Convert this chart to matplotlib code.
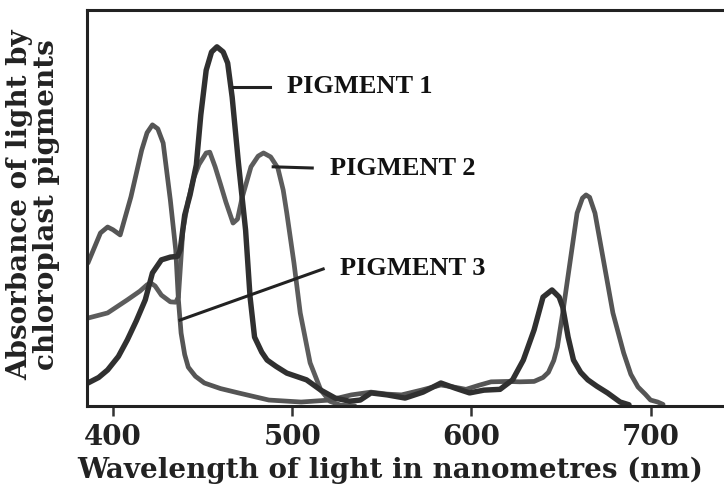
import numpy as np
import matplotlib
matplotlib.use('Agg')
from matplotlib import pyplot as plt

# wavelength (nm) and relative absorbance
nm_p1 = [386, 392, 397, 403, 408, 413, 418, 422, 427, 432, 436, 437.5, 440, 443, 446.5, 449, 452, 455, 458,
         461.5, 464, 466.5, 470, 474, 476.5, 479, 483, 486, 491, 497, 508, 516, 524, 532, 538, 544, 553, 563,
         573, 583, 591, 599, 607, 616, 623, 629, 635, 640, 645, 649, 651, 654, 657, 661, 665, 670, 676, 683, 688]
abs_p1 = [0.058, 0.072, 0.091, 0.125, 0.167, 0.215, 0.268, 0.336, 0.369, 0.376, 0.378, 0.394, 0.482, 0.533, 0.609,
          0.735, 0.848, 0.894, 0.907, 0.894, 0.866, 0.780, 0.614, 0.444, 0.275, 0.174, 0.136, 0.116, 0.100, 0.083,
          0.066, 0.040, 0.020, 0.012, 0.015, 0.033, 0.028, 0.020, 0.035, 0.058, 0.045, 0.033, 0.040, 0.042, 0.066,
          0.116, 0.192, 0.275, 0.293, 0.275, 0.250, 0.174, 0.116, 0.085, 0.066, 0.050, 0.033, 0.010, 0.003]

nm_p2 = [386, 397, 408, 415, 419, 421, 423.5, 427, 432, 435, 436.5, 437.5, 439, 442, 445, 448, 452, 454, 457,
         460, 463, 467, 469.5, 472, 477, 481, 484, 488, 492, 495, 497, 501, 504.5, 510, 516, 521, 527, 535]
abs_p2 = [0.222, 0.235, 0.268, 0.290, 0.306, 0.311, 0.303, 0.280, 0.263, 0.262, 0.275, 0.343, 0.444, 0.520, 0.575,
          0.610, 0.639, 0.641, 0.604, 0.560, 0.515, 0.462, 0.472, 0.525, 0.604, 0.631, 0.639, 0.629, 0.601, 0.545,
          0.487, 0.361, 0.235, 0.109, 0.040, 0.012, 0.002, 0.0]

nm_p3 = [386, 393, 397, 400, 404, 410, 416, 419, 422, 425, 428, 432, 435, 436.5, 438, 440, 442, 446, 451, 460,
         470, 487, 505, 521, 533, 544, 553, 561, 572, 583, 590, 597, 604, 611, 620, 627, 635, 640, 643, 646, 648,
         651, 655, 659, 662, 664, 666, 669, 674, 679, 685, 689, 693, 697, 700, 704, 707]
abs_p3 = [0.361, 0.437, 0.452, 0.445, 0.432, 0.528, 0.646, 0.690, 0.710, 0.700, 0.664, 0.520, 0.394, 0.268, 0.184,
          0.130, 0.098, 0.075, 0.058, 0.044, 0.033, 0.015, 0.010, 0.015, 0.028, 0.035, 0.030, 0.028, 0.040, 0.053,
          0.048, 0.042, 0.052, 0.061, 0.062, 0.061, 0.062, 0.072, 0.085, 0.115, 0.149, 0.235, 0.361, 0.487, 0.525,
          0.533, 0.527, 0.487, 0.361, 0.235, 0.134, 0.080, 0.048, 0.030, 0.015, 0.010, 0.004]

xticks = [400, 500, 600, 700]
labels = ['PIGMENT 1', 'PIGMENT 2', 'PIGMENT 3']

fig = plt.figure(figsize=(7.24, 4.93), dpi=100)
ax = fig.add_axes([0.1202, 0.1765, 0.8798, 0.8032])

kw = dict(solid_joinstyle='round', solid_capstyle='round')
ax.plot(nm_p2, abs_p2, color='#5c5c5c', lw=3.4, **kw)
ax.plot(nm_p3, abs_p3, color='#555555', lw=3.4, **kw)
ax.plot(nm_p1, abs_p1, color='#303030', lw=3.9, **kw)

# pointer lines + labels
ax.plot([467.0, 487.7], [0.806, 0.806], color='#222222', lw=2.2)
ax.plot([489.4, 511.2], [0.604, 0.601], color='#222222', lw=2.2)
ax.plot([437.4, 517.3], [0.217, 0.346], color='#222222', lw=2.2)
lab_font = dict(family='Liberation Serif', weight='bold', size=19, va='center', ha='left', color='#111111')
ax.text(497.2, 0.806, labels[0], **lab_font)
ax.text(521.2, 0.601, labels[1], **lab_font)
ax.text(526.8, 0.346, labels[2], **lab_font)

ax.set_xlim(385.5, 741)
ax.set_ylim(0, 1)
ax.set_xticks(xticks)
ax.set_xticklabels([str(t) for t in xticks], family='DejaVu Serif', weight='bold', size=20, color='#222222')
ax.set_yticks([])
ax.tick_params(axis='x', direction='out', length=7, width=1.8, pad=6, color='#333333')
for s in ['left', 'top', 'bottom']:
    ax.spines[s].set_linewidth(2.2)
    ax.spines[s].set_color('#222222')
ax.spines['right'].set_visible(False)

fig.text(390 / 724, 1 - 470 / 493, 'Wavelength of light in nanometres (nm)', family='DejaVu Serif',
         weight='bold', size=20, ha='center', va='center', color='#222222')
fig.text(33 / 724, 1 - 205 / 493, 'Absorbance of light by\nchloroplast pigments', family='DejaVu Serif',
         weight='bold', size=20, ha='center', va='center', rotation=90, linespacing=1.0,
         multialignment='center', color='#222222')

fig.savefig('out.png', dpi=100)
